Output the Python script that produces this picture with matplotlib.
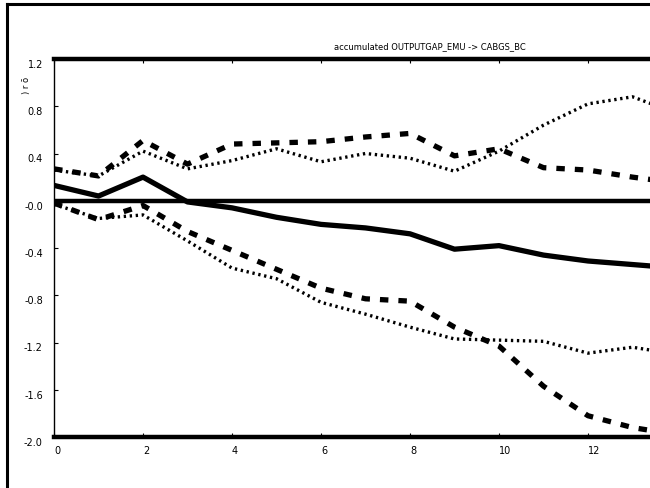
import matplotlib.pyplot as plt
from matplotlib.lines import Line2D

plt.rcParams['font.family'] = ['Liberation Sans Narrow', 'DejaVu Sans']

# impulse response horizon
steps = [0, 1, 2, 3, 4, 5, 6, 7, 8, 9, 10, 11, 12, 13, 14]

irf = [0.13, 0.04, 0.20, -0.01, -0.06, -0.14, -0.20, -0.23, -0.28, -0.41,
       -0.38, -0.46, -0.51, -0.54, -0.57]
upper_dash = [0.27, 0.21, 0.51, 0.31, 0.48, 0.49, 0.50, 0.54, 0.57, 0.38,
              0.44, 0.28, 0.26, 0.20, 0.15]
lower_dash = [-0.02, -0.16, -0.04, -0.26, -0.42, -0.58, -0.74, -0.83, -0.85,
              -1.07, -1.23, -1.57, -1.82, -1.92, -1.98]
upper_dot = [0.26, 0.21, 0.42, 0.27, 0.34, 0.44, 0.33, 0.40, 0.36, 0.25,
             0.42, 0.64, 0.82, 0.88, 0.74]
lower_dot = [-0.03, -0.15, -0.12, -0.34, -0.57, -0.66, -0.86, -0.96, -1.07,
             -1.17, -1.18, -1.19, -1.29, -1.24, -1.30]

yticks = [1.2, 0.8, 0.4, 0.0, -0.4, -0.8, -1.2, -1.6, -2.0]
ytick_labels = ['1.2', '0.8', '0.4', '-0.0', '-0.4', '-0.8', '-1.2', '-1.6', '-2.0']
xticks = [0, 2, 4, 6, 8, 10, 12]

fig = plt.figure(figsize=(6.5, 4.89), dpi=100)
ax = fig.add_axes([54 / 650, 1 - 438 / 489, 14 * 44.5 / 650, 378 / 489])

ax.axhline(0, color='black', lw=3.2, zorder=1)
ax.plot(steps, irf, color='black', lw=3.8, solid_capstyle='butt', zorder=3)
ax.plot(steps, upper_dash, color='black', lw=3.8, dashes=(1.6, 1.9), dash_capstyle='butt')
ax.plot(steps, lower_dash, color='black', lw=3.8, dashes=(1.6, 1.9), dash_capstyle='butt')
ax.plot(steps, upper_dot, color='black', lw=2.4, dashes=(0.7, 1.1), dash_capstyle='butt')
ax.plot(steps, lower_dot, color='black', lw=2.4, dashes=(0.7, 1.1), dash_capstyle='butt')

ax.set_xlim(0, 14)
ax.set_ylim(-2.0, 1.2)
ax.set_xticks(xticks)
ax.set_xticklabels([str(t) for t in xticks], fontsize=7, ha='left')
ax.set_yticks(yticks)
ax.set_yticklabels(ytick_labels, fontsize=7)
for lab in ax.get_yticklabels():
    lab.set_va('top')
ax.tick_params(direction='in', length=3, width=0.8, top=True)
ax.tick_params(axis='x', pad=6)
ax.tick_params(axis='y', pad=8)

ax.spines['top'].set_linewidth(3.2)
ax.spines['bottom'].set_linewidth(3.2)
ax.spines['left'].set_linewidth(1.0)
ax.spines['right'].set_visible(False)

fig.text(430 / 650, 1 - 47 / 489, 'accumulated OUTPUTGAP_EMU -> CABGS_BC',
         ha='center', va='center', fontsize=6)
fig.text(27 / 650, 1 - 85 / 489, ') r ō', rotation=90, ha='center',
         va='center', fontsize=6)

# outer frame of the original window
fig.add_artist(Line2D([7 / 650, 7 / 650], [0, 1 - 5 / 489], color='black', lw=2.2))
fig.add_artist(Line2D([7 / 650, 1], [1 - 5 / 489, 1 - 5 / 489], color='black', lw=2.2))

fig.savefig('out.png', dpi=100)
